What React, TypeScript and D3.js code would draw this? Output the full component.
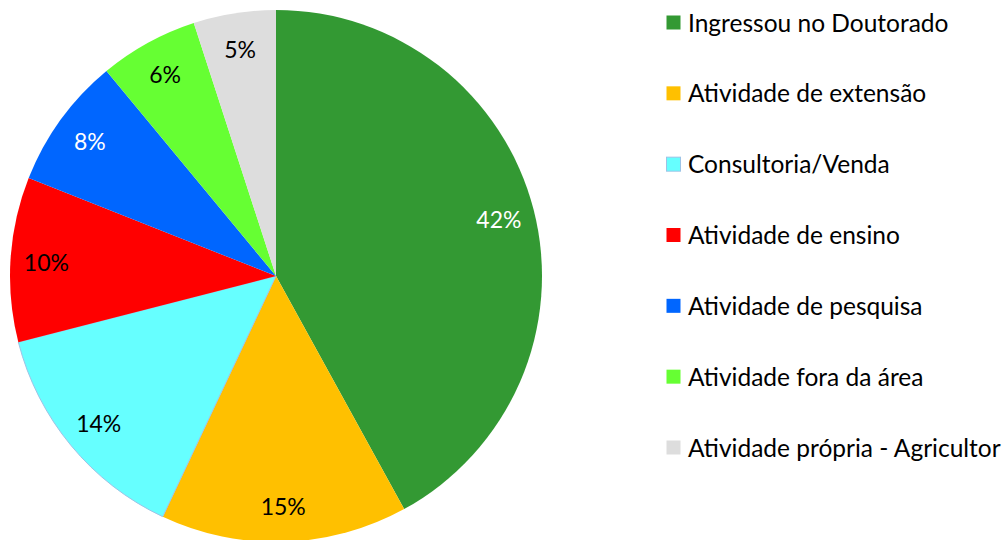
import React from "react";
import * as d3 from "d3";

const categories = [
  "Ingressou no Doutorado",
  "Atividade de extensão",
  "Consultoria/Venda",
  "Atividade de ensino",
  "Atividade de pesquisa",
  "Atividade fora da área",
  "Atividade própria - Agricultor",
];
const values = [42, 15, 14, 10, 8, 6, 5];
const colors = ["#339933", "#FFC000", "#66FFFF", "#FF0000", "#0066FF", "#66FF33", "#DDDDDD"];
const strokes = ["none", "none", "#9DC3E6", "none", "none", "none", "none"];
const labelColors = ["#FFFFFF", "#000000", "#000000", "#000000", "#FFFFFF", "#000000", "#000000"];

const W = 1008;
const H = 540;
const FONT = "Lato, 'Open Sans', sans-serif";

export default function App() {
  const cx = 276;
  const cy = 276;
  const r = 266;
  const data = categories.map((c, i) => ({ c, v: values[i], i }));
  const pie = d3.pie<any>().value((d) => d.v).sort(null);
  const arcs = pie(data);
  const arc = d3.arc<any>().innerRadius(0).outerRadius(r);
  const labelArc = d3.arc<any>().innerRadius(r * 0.865).outerRadius(r * 0.865);
  const total = d3.sum(values);

  const legendY = d3.scalePoint<number>().domain(d3.range(categories.length)).range([22, 447]);

  return (
    <svg width={W} height={H} style={{ position: "absolute", left: 0, top: 0, background: "#fff" }}>
      <g transform={`translate(${cx},${cy})`}>
        {arcs.map((a, i) => (
          <path key={i} d={arc(a) as string} fill={colors[i]} stroke={strokes[i]} strokeWidth={1} />
        ))}
        {arcs.map((a, i) => {
          const [x, y] = labelArc.centroid(a);
          return (
            <text
              key={i}
              x={x}
              y={y}
              textAnchor="middle"
              dominantBaseline="central"
              fontFamily={FONT}
              fontSize={23}
              fill={labelColors[i]}
            >
              {`${Math.round((values[i] / total) * 100)}%`}
            </text>
          );
        })}
      </g>
      <g>
        {categories.map((c, i) => (
          <g key={i} transform={`translate(666,${legendY(i)})`}>
            <rect x={0.5} y={-6.5} width={14} height={14} fill={colors[i]} stroke={strokes[i]} strokeWidth={1} />
            <text x={22} y={0} dominantBaseline="central" fontFamily={FONT} fontSize={24.5} fill="#000">
              {c}
            </text>
          </g>
        ))}
      </g>
    </svg>
  );
}
